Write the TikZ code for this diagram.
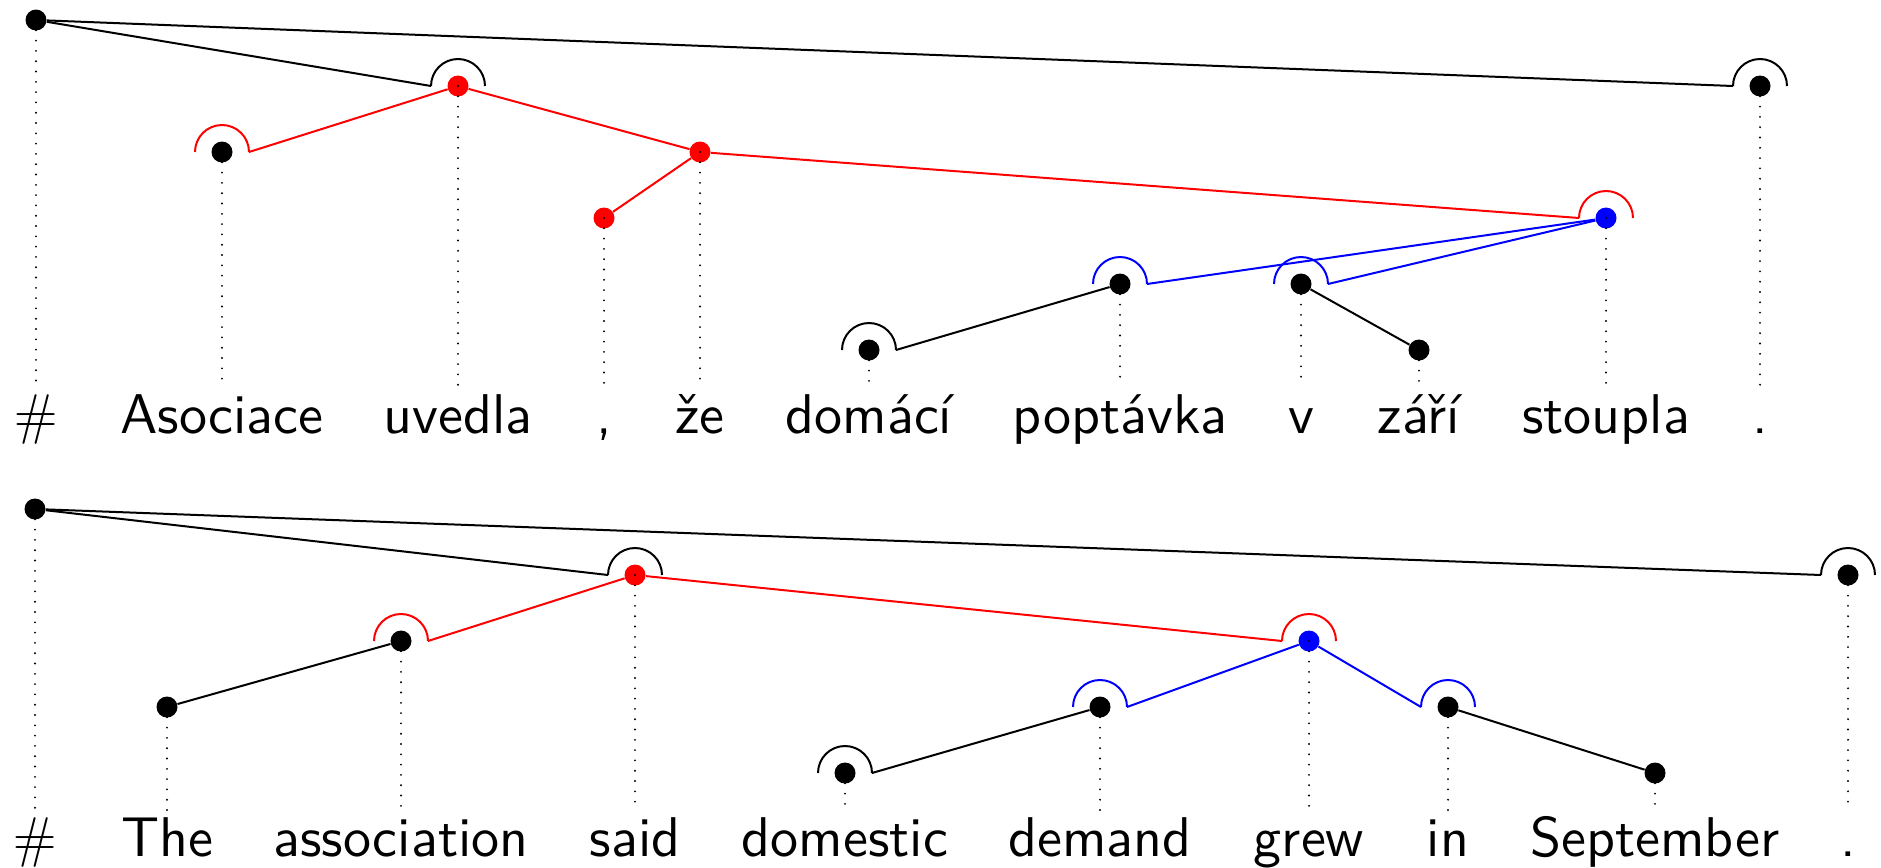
\documentclass[tikz,border=0pt]{standalone}
\usepackage{fontspec}
\newfontfamily\wordfont{lmsans10-regular}[Extension=.otf]
\tikzset{
  tnode/.style={circle, fill, inner sep=0pt, minimum size=10.5pt},
  word/.style={anchor=base, inner sep=0pt, font=\wordfont\fontsize{28}{33}\selectfont},
  link/.style={line width=1pt},
  rim/.style={line width=1pt},
  guide/.style={line width=1.05pt, line cap=round, dash pattern=on 0pt off 5.15pt},
}
\begin{document}
\begin{tikzpicture}[x=0.5pt, y=-0.5pt]
	%\draw[help lines] (0,0) grid[step=100] (1881,868);
	\useasboundingbox (0,0) rectangle (1881,868);

	% Czech tree
	\node [tnode] (hash1) at (36, 20) {};
	\node [tnode] (asociace) at (222, 152) {};
	\node [tnode, red] (uvedla) at (458, 86) {};
	\node [tnode, red] (comma) at (604, 218) {};
	\node [tnode, red] (ze) at (700, 152) {};
	\node [tnode] (domaci) at (869, 350) {};
	\node [tnode] (poptavka) at (1120, 284) {};
	\node [tnode] (v) at (1301, 284) {};
	\node [tnode] (zari) at (1419, 350) {};
	\node [tnode, blue] (stoupla) at (1606, 218) {};
	\node [tnode] (dot1) at (1760, 86) {};

	\node [word] (whash1) at (36, 433) {$\#$};
	\node [word] (wasociace) at (222, 433) {Asociace};
	\node [word] (wuvedla) at (458, 433) {uvedla};
	\node [word] (wcomma) at (604, 433) {,};
	\node [word] (wze) at (700, 433) {že};
	\node [word] (wdomaci) at (869, 433) {domácí};
	\node [word] (wpoptavka) at (1120, 433) {poptávka};
	\node [word] (wv) at (1301, 433) {v};
	\node [word] (wzari) at (1419, 433) {září};
	\node [word] (wstoupla) at (1606, 433) {stoupla};
	\node [word] (wdot1) at (1760, 433) {.};

	\draw [link] (hash1) -- ([xshift=-13.5pt]uvedla.center);
	\draw [link] (hash1) -- ([xshift=-13.5pt]dot1.center);
	\draw [link, red] (uvedla) -- ([xshift=13.5pt]asociace.center);
	\draw [link, red] (uvedla) -- (ze);
	\draw [link, red] (ze) -- (comma);
	\draw [link, red] (ze) -- ([xshift=-13.5pt]stoupla.center);
	\draw [link, blue] (stoupla) -- ([xshift=13.5pt]poptavka.center);
	\draw [link, blue] (stoupla) -- ([xshift=13.5pt]v.center);
	\draw [link] (poptavka) -- ([xshift=13.5pt]domaci.center);
	\draw [link] (v) -- (zari);

	\draw [rim] ([xshift=-13.5pt]uvedla.center) arc (180:0:13.5pt);
	\draw [rim] ([xshift=-13.5pt]dot1.center) arc (180:0:13.5pt);
	\draw [rim, red] ([xshift=-13.5pt]asociace.center) arc (180:0:13.5pt);
	\draw [rim, red] ([xshift=-13.5pt]stoupla.center) arc (180:0:13.5pt);
	\draw [rim, blue] ([xshift=-13.5pt]poptavka.center) arc (180:0:13.5pt);
	\draw [rim, blue] ([xshift=-13.5pt]v.center) arc (180:0:13.5pt);
	\draw [rim] ([xshift=-13.5pt]domaci.center) arc (180:0:13.5pt);

	\draw [guide] (hash1.center) -- (hash1 |- 0,385);
	\draw [guide] (asociace.center) -- (asociace |- 0,385);
	\draw [guide] (uvedla.center) -- (uvedla |- 0,385);
	\draw [guide] (comma.center) -- (comma |- 0,385);
	\draw [guide] (ze.center) -- (ze |- 0,385);
	\draw [guide] (domaci.center) -- (domaci |- 0,385);
	\draw [guide] (poptavka.center) -- (poptavka |- 0,385);
	\draw [guide] (v.center) -- (v |- 0,385);
	\draw [guide] (zari.center) -- (zari |- 0,385);
	\draw [guide] (stoupla.center) -- (stoupla |- 0,385);
	\draw [guide] (dot1.center) -- (dot1 |- 0,385);

	% English tree
	\node [tnode] (hash2) at (35, 509) {};
	\node [tnode] (the) at (167, 707) {};
	\node [tnode] (association) at (401, 641) {};
	\node [tnode, red] (said) at (635, 575) {};
	\node [tnode] (domestic) at (845, 773) {};
	\node [tnode] (demand) at (1100, 707) {};
	\node [tnode, blue] (grew) at (1309, 641) {};
	\node [tnode] (in) at (1448, 707) {};
	\node [tnode] (september) at (1655, 773) {};
	\node [tnode] (dot2) at (1848, 575) {};

	\node [word] (whash2) at (35, 856) {$\#$};
	\node [word] (wthe) at (167, 856) {The};
	\node [word] (wassociation) at (401, 856) {association};
	\node [word] (wsaid) at (635, 856) {said};
	\node [word] (wdomestic) at (845, 856) {domestic};
	\node [word] (wdemand) at (1100, 856) {demand};
	\node [word] (wgrew) at (1309, 856) {grew};
	\node [word] (win) at (1448, 856) {in};
	\node [word] (wseptember) at (1655, 856) {September};
	\node [word] (wdot2) at (1848, 856) {.};

	\draw [link] (hash2) -- ([xshift=-13.5pt]said.center);
	\draw [link] (hash2) -- ([xshift=-13.5pt]dot2.center);
	\draw [link, red] (said) -- ([xshift=13.5pt]association.center);
	\draw [link] (association) -- (the);
	\draw [link, red] (said) -- ([xshift=-13.5pt]grew.center);
	\draw [link, blue] (grew) -- ([xshift=13.5pt]demand.center);
	\draw [link, blue] (grew) -- ([xshift=-13.5pt]in.center);
	\draw [link] (demand) -- ([xshift=13.5pt]domestic.center);
	\draw [link] (in) -- (september);

	\draw [rim] ([xshift=-13.5pt]said.center) arc (180:0:13.5pt);
	\draw [rim] ([xshift=-13.5pt]dot2.center) arc (180:0:13.5pt);
	\draw [rim, red] ([xshift=-13.5pt]association.center) arc (180:0:13.5pt);
	\draw [rim, red] ([xshift=-13.5pt]grew.center) arc (180:0:13.5pt);
	\draw [rim, blue] ([xshift=-13.5pt]demand.center) arc (180:0:13.5pt);
	\draw [rim, blue] ([xshift=-13.5pt]in.center) arc (180:0:13.5pt);
	\draw [rim] ([xshift=-13.5pt]domestic.center) arc (180:0:13.5pt);

	\draw [guide] (hash2.center) -- (hash2 |- 0,810);
	\draw [guide] (the.center) -- (the |- 0,810);
	\draw [guide] (association.center) -- (association |- 0,810);
	\draw [guide] (said.center) -- (said |- 0,810);
	\draw [guide] (domestic.center) -- (domestic |- 0,810);
	\draw [guide] (demand.center) -- (demand |- 0,810);
	\draw [guide] (grew.center) -- (grew |- 0,810);
	\draw [guide] (in.center) -- (in |- 0,810);
	\draw [guide] (september.center) -- (september |- 0,810);
	\draw [guide] (dot2.center) -- (dot2 |- 0,810);

\end{tikzpicture}
\end{document}
